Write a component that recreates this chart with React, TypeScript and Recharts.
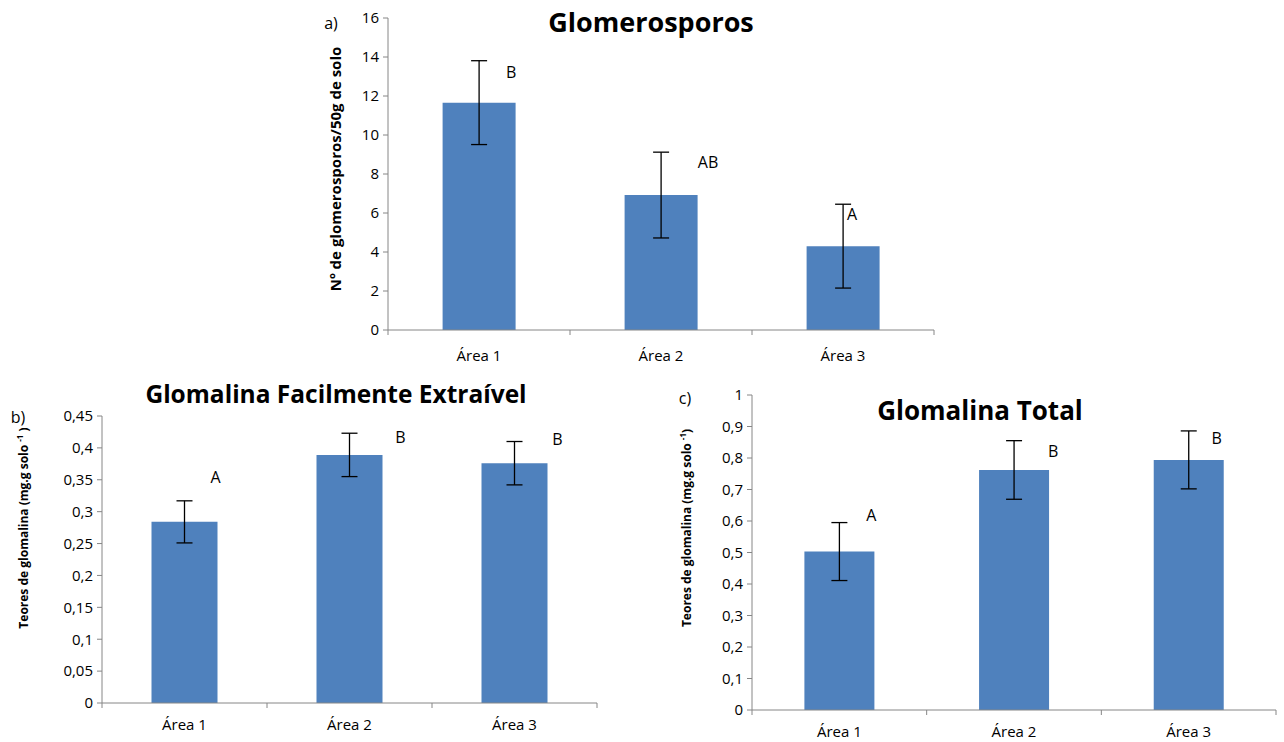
import React from 'react';
import { BarChart, Bar, XAxis, YAxis, ErrorBar, LabelList } from 'recharts';

const categories = ['Área 1', 'Área 2', 'Área 3'];

// a) glomerosporos
const sporeMeans = [11.66, 6.92, 4.3];
const sporeErrors = [2.15, 2.2, 2.15];
const sporeLetters = ['B', 'AB', 'A'];
const sporeTicks = [0, 2, 4, 6, 8, 10, 12, 14, 16];

// b) glomalina facilmente extraível
const easyMeans = [0.284, 0.389, 0.376];
const easyErrors = [0.033, 0.034, 0.034];
const easyLetters = ['A', 'B', 'B'];
const easyTicks = [0, 0.05, 0.1, 0.15, 0.2, 0.25, 0.3, 0.35, 0.4, 0.45];

// c) glomalina total
const totalMeans = [0.503, 0.762, 0.794];
const totalErrors = [0.092, 0.093, 0.092];
const totalLetters = ['A', 'B', 'B'];
const totalTicks = [0, 0.1, 0.2, 0.3, 0.4, 0.5, 0.6, 0.7, 0.8, 0.9, 1];

// where each significance letter sits, relative to bar centre / error bar top
const sporeLetterOffsets = [[32, 11], [47, 10], [9, 10]];
const easyLetterOffsets = [[31, -24], [51, 4], [43, -3]];
const totalLetterOffsets = [[32, -8], [39, 10], [28, 7]];

const FONT = '"Open Sans", "Noto Sans", sans-serif';
const AXIS = '#868686';
const BLUE = '#4F81BD';

const fmt = (v: number) => String(Number(v.toFixed(2))).replace('.', ',');

const buildRows = (means: number[], errors: number[], letters: string[]) =>
  categories.map((name, i) => ({ name, mean: means[i], err: errors[i], letter: letters[i] }));

const letterRenderer = (rows: any[], offsets: number[][]) => (props: any) => {
  const { x, y, width, height, index } = props;
  const row = rows[index];
  const base = Number(y) + Number(height);
  const k = Number(height) / row.mean;
  const errTop = base - (row.mean + row.err) * k;
  const [dx, dy] = offsets[index];
  return (
    <text
      x={Number(x) + Number(width) / 2 + dx}
      y={errTop + dy}
      textAnchor="middle"
      dominantBaseline="central"
      fontSize={16}
      fontFamily={FONT}
      fill="#000"
    >
      {row.letter}
    </text>
  );
};

// Excel-style category axis: tick marks sit between categories, label in the middle
const categoryTick = (band: number, gap: number) => (props: any) => {
  const { x, y, payload, index } = props;
  const left = x - band / 2;
  const right = x + band / 2;
  return (
    <g>
      <line x1={left} x2={left} y1={y} y2={y + 5} stroke={AXIS} />
      {index === categories.length - 1 && <line x1={right} x2={right} y1={y} y2={y + 5} stroke={AXIS} />}
      <text x={x} y={y + gap} textAnchor="middle" dominantBaseline="central" fontSize={15} fontFamily={FONT} fill="#000">
        {payload.value}
      </text>
    </g>
  );
};

interface PanelProps {
  left: number;
  top: number;
  width: number;
  height: number;
  yWidth: number;
  margin: { top: number; right: number; bottom: number; left: number };
  xHeight: number;
  xGap: number;
  rows: any[];
  offsets: number[][];
  ticks: number[];
}

const Panel = ({ left, top, width, height, yWidth, margin, xHeight, xGap, rows, offsets, ticks }: PanelProps) => {
  const band = (width - yWidth - margin.left - margin.right) / categories.length;
  return (
    <div style={{ position: 'absolute', left, top, width, height }}>
      <BarChart width={width} height={height} data={rows} margin={margin} barCategoryGap="30%">
        <XAxis
          dataKey="name"
          axisLine={{ stroke: AXIS }}
          tickLine={false}
          tickSize={0}
          tickMargin={0}
          height={xHeight}
          interval={0}
          tick={categoryTick(band, xGap)}
        />
        <YAxis
          domain={[0, ticks[ticks.length - 1]]}
          ticks={ticks}
          interval={0}
          width={yWidth}
          tickSize={5}
          tickMargin={4}
          tickFormatter={fmt}
          axisLine={{ stroke: AXIS }}
          tickLine={{ stroke: AXIS }}
          tick={{ fill: '#000', fontSize: 15, fontFamily: FONT }}
        />
        <Bar dataKey="mean" fill={BLUE} isAnimationActive={false}>
          <ErrorBar dataKey="err" width={8} stroke="#000" strokeWidth={1.3} direction="y" />
          <LabelList dataKey="letter" content={letterRenderer(rows, offsets)} />
        </Bar>
      </BarChart>
    </div>
  );
};

const Text = ({ x, y, size, bold, children, rotate }: any) => (
  <div
    style={{
      position: 'absolute',
      left: x,
      top: y,
      transform: `translate(-50%, -50%)${rotate ? ' rotate(-90deg)' : ''}`,
      whiteSpace: 'nowrap',
      fontFamily: FONT,
      fontSize: size,
      fontWeight: bold ? 700 : 400,
      color: '#000',
      lineHeight: 1,
    }}
  >
    {children}
  </div>
);

export default function App() {
  const sporeRows = buildRows(sporeMeans, sporeErrors, sporeLetters);
  const easyRows = buildRows(easyMeans, easyErrors, easyLetters);
  const totalRows = buildRows(totalMeans, totalErrors, totalLetters);

  return (
    <div style={{ position: 'absolute', left: 0, top: 0, width: 1284, height: 742, background: '#fff' }}>
      <Panel
        left={320}
        top={0}
        width={640}
        height={380}
        yWidth={68}
        margin={{ top: 18, right: 26, bottom: 10, left: 0 }}
        xHeight={40}
        xGap={25}
        rows={sporeRows}
        offsets={sporeLetterOffsets}
        ticks={sporeTicks}
      />
      <Panel
        left={30}
        top={380}
        width={600}
        height={362}
        yWidth={72}
        margin={{ top: 36, right: 33, bottom: 9, left: 0 }}
        xHeight={30}
        xGap={21}
        rows={easyRows}
        offsets={easyLetterOffsets}
        ticks={easyTicks}
      />
      <Panel
        left={680}
        top={380}
        width={604}
        height={362}
        yWidth={72}
        margin={{ top: 15, right: 8, bottom: 2, left: 0 }}
        xHeight={30}
        xGap={21}
        rows={totalRows}
        offsets={totalLetterOffsets}
        ticks={totalTicks}
      />

      <Text x={651} y={21} size={27} bold>Glomerosporos</Text>
      <Text x={331} y={23} size={16}>a)</Text>
      <Text x={335} y={169} size={15} bold rotate>Nº de glomerosporos/50g de solo</Text>

      <Text x={336} y={394} size={24.5} bold>Glomalina Facilmente Extraível</Text>
      <Text x={18} y={417} size={16}>b)</Text>
      <Text x={23} y={528} size={12} bold rotate>
        Teores de glomalina (mg.g solo <sup style={{ fontSize: 8 }}>-1</sup> )
      </Text>

      <Text x={980} y={410} size={26} bold>Glomalina Total</Text>
      <Text x={685} y={398} size={16}>c)</Text>
      <Text x={686} y={528} size={12} bold rotate>
        Teores de glomalina (mg.g solo <sup style={{ fontSize: 8 }}>-1</sup>)
      </Text>
    </div>
  );
}
